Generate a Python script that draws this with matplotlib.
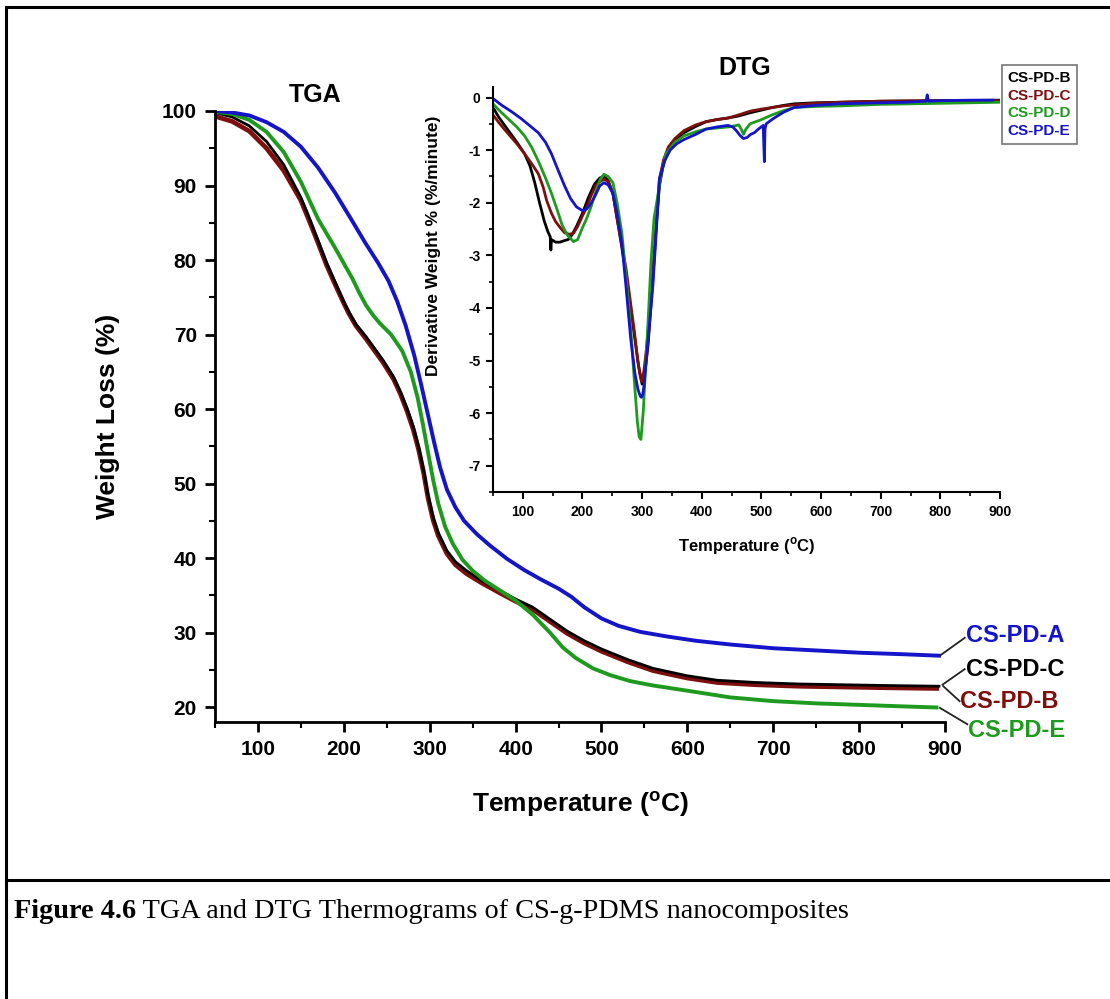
import numpy as np
import matplotlib
matplotlib.use("Agg")
import matplotlib.pyplot as plt
from matplotlib.lines import Line2D
from matplotlib.ticker import MultipleLocator

plt.rcParams["font.family"] = ["Liberation Sans", "DejaVu Sans"]
plt.rcParams["mathtext.fontset"] = "custom"
plt.rcParams["mathtext.rm"] = "Liberation Sans"
plt.rcParams["mathtext.bf"] = "Liberation Sans:bold"
plt.rcParams["axes.unicode_minus"] = False

# ---- TGA data (temperature in C, weight %) ----
tga_a_t = [50, 70, 90, 110, 130, 150, 170, 190, 210, 225, 240, 252, 262, 272, 282, 290, 298, 305, 312,
           320, 330, 340, 355, 370, 390, 410, 430, 450, 465, 480, 500, 520, 545, 575, 610, 650, 700, 750,
           800, 850, 893]
tga_a_w = [100, 99.8, 99.4, 98.5, 97.2, 95.2, 92.4, 89.0, 85.2, 82.3, 79.6, 77.2, 74.5, 71.2, 67.2, 63.3,
           59.2, 55.6, 52.2, 49.2, 46.8, 45.0, 43.2, 41.7, 39.9, 38.4, 37.1, 35.9, 34.8, 33.4, 31.9, 30.9,
           30.1, 29.5, 28.9, 28.4, 27.9, 27.6, 27.3, 27.1, 26.9]

tga_e_t = [50, 70, 90, 110, 130, 150, 170, 190, 210, 218, 226, 234, 242, 255, 268, 278, 286, 292, 298,
           304, 310, 318, 327, 338, 350, 365, 380, 400, 420, 440, 455, 470, 490, 510, 533, 560, 600, 650,
           700, 750, 800, 850, 890]
tga_e_w = [99.9, 99.6, 98.8, 97.2, 94.5, 90.5, 85.5, 81.6, 77.5, 75.6, 73.9, 72.6, 71.5, 70.0, 67.8, 65.0,
           61.5, 58.0, 54.2, 50.5, 47.3, 44.2, 41.9, 39.8, 38.3, 36.9, 35.8, 34.3, 32.4, 30.0, 28.0, 26.6,
           25.2, 24.3, 23.5, 22.9, 22.2, 21.3, 20.8, 20.5, 20.3, 20.1, 19.95]

tga_bc_t = [50, 70, 90, 110, 130, 150, 160, 170, 180, 190, 200, 206, 214, 226, 246, 258, 266, 274, 281,
            287, 293, 298, 304, 310, 320, 330, 343, 360, 382, 400, 420, 440, 460, 480, 500, 530, 560, 600,
            635, 680, 730, 780, 830, 893]
tga_c_w = [99.8, 99.2, 98.0, 95.9, 92.8, 88.4, 85.6, 82.6, 79.6, 77.0, 74.4, 73.0, 71.4, 69.7, 66.5, 64.3,
           62.3, 60.0, 57.6, 55.0, 51.8, 48.5, 45.5, 43.4, 41.0, 39.5, 38.3, 37.0, 35.6, 34.5, 33.4, 31.8,
           30.2, 28.9, 27.8, 26.4, 25.2, 24.2, 23.6, 23.3, 23.1, 23.0, 22.9, 22.8]
tga_b_w = [99.3, 98.6, 97.3, 95.0, 92.0, 88.0, 85.2, 82.3, 79.3, 76.7, 74.2, 72.8, 71.2, 69.4, 66.2, 64.0,
           62.0, 59.6, 57.2, 54.6, 51.4, 48.1, 45.1, 43.0, 40.6, 39.1, 37.9, 36.7, 35.3, 34.2, 33.1, 31.5,
           29.9, 28.6, 27.5, 26.1, 24.9, 23.9, 23.3, 23.0, 22.8, 22.7, 22.6, 22.5]

# ---- DTG data (temperature in C, %/minute) ----
dtg_b_t = [50, 60, 74, 90, 103, 112, 120, 128, 136, 142, 146, 147, 148, 155, 162, 170, 176, 182, 190,
           200, 210, 220, 229, 236, 243, 251, 258, 266, 273, 280, 288, 294, 300, 305, 310, 318, 324, 329,
           336, 344, 355, 370, 390, 407, 425, 444, 462, 481, 500, 518, 537, 555, 590, 630, 700, 800, 900]
dtg_b_d = [-0.19, -0.38, -0.6, -0.85, -1.07, -1.3, -1.62, -2.0, -2.35, -2.55, -2.65, -2.9, -2.7, -2.75,
           -2.75, -2.72, -2.7, -2.62, -2.45, -2.2, -1.9, -1.65, -1.53, -1.5, -1.58, -1.82, -2.3, -2.85,
           -3.35, -3.95, -4.6, -5.1, -5.45, -5.2, -4.7, -3.45, -2.4, -1.68, -1.25, -1.0, -0.82, -0.67,
           -0.55, -0.46, -0.42, -0.39, -0.35, -0.29, -0.24, -0.19, -0.15, -0.12, -0.1, -0.09, -0.07,
           -0.06, -0.05]

dtg_c_t = [50, 60, 74, 90, 103, 115, 126, 134, 140, 148, 155, 163, 170, 178, 185, 192, 200, 207, 215,
           222, 229, 236, 243, 251, 258, 266, 273, 280, 287, 292, 296, 299, 303, 307, 312, 318, 324, 329,
           336, 344, 355, 370, 390, 407, 425, 444, 462, 481, 500, 518, 537, 555, 590, 630, 700, 800, 900]
dtg_c_d = [-0.33, -0.48, -0.67, -0.88, -1.07, -1.26, -1.45, -1.7, -1.96, -2.2, -2.36, -2.48, -2.57, -2.6,
           -2.58, -2.45, -2.25, -2.09, -1.85, -1.68, -1.6, -1.55, -1.6, -1.82, -2.3, -2.8, -3.25, -3.85,
           -4.45, -4.94, -5.25, -5.4, -5.2, -4.8, -4.2, -3.3, -2.35, -1.55, -1.18, -0.94, -0.78, -0.63,
           -0.52, -0.46, -0.42, -0.39, -0.33, -0.26, -0.22, -0.19, -0.16, -0.14, -0.11, -0.09, -0.07,
           -0.06, -0.06]

dtg_d_t = [50, 60, 74, 90, 103, 115, 126, 137, 148, 158, 166, 175, 185, 192, 199, 207, 214, 222, 230,
           236, 243, 251, 258, 266, 273, 281, 287, 292, 295, 298, 302, 306, 310, 315, 320, 325, 332, 340,
           355, 370, 390, 407, 425, 444, 455, 462, 467, 470, 474, 481, 500, 518, 537, 555, 590, 630, 700,
           800, 900]
dtg_d_d = [-0.12, -0.24, -0.39, -0.56, -0.73, -0.95, -1.21, -1.5, -1.82, -2.15, -2.43, -2.62, -2.74, -2.7,
           -2.5, -2.3, -2.09, -1.8, -1.55, -1.46, -1.5, -1.62, -2.0, -2.57, -3.4, -4.4, -5.4, -6.16, -6.45,
           -6.5, -5.96, -5.1, -4.26, -3.1, -2.3, -1.96, -1.45, -1.07, -0.85, -0.73, -0.65, -0.6, -0.58,
           -0.56, -0.54, -0.52, -0.62, -0.7, -0.6, -0.5, -0.42, -0.33, -0.25, -0.19, -0.17, -0.16, -0.13,
           -0.11, -0.09]

dtg_e_t = [50, 65, 80, 96, 110, 126, 138, 148, 158, 170, 180, 190, 200, 207, 214, 222, 229, 236, 243,
           251, 258, 266, 273, 281, 288, 293, 297, 299, 301, 303, 307, 312, 318, 324, 329, 338, 347, 358,
           370, 390, 407, 425, 444, 452, 458, 464, 470, 476, 482, 488, 495, 503, 504, 505, 506, 508, 520,
           537, 555, 590, 629, 700, 740, 776, 778, 780, 800, 850, 888]
dtg_e_d = [-0.02, -0.15, -0.26, -0.39, -0.52, -0.67, -0.85, -1.07, -1.35, -1.68, -1.92, -2.08, -2.15,
           -2.12, -2.02, -1.85, -1.68, -1.62, -1.66, -1.82, -2.2, -2.77, -3.6, -4.6, -5.25, -5.55, -5.68,
           -5.7, -5.65, -5.49, -5.0, -4.35, -3.58, -2.5, -1.55, -1.2, -1.0, -0.88, -0.8, -0.7, -0.6, -0.56,
           -0.53, -0.56, -0.63, -0.72, -0.78, -0.76, -0.7, -0.67, -0.6, -0.53, -0.9, -1.22, -0.6, -0.5,
           -0.4, -0.28, -0.19, -0.15, -0.12, -0.1, -0.09, -0.07, 0.05, -0.07, -0.06, -0.05, -0.05]

c_blue = "#1414c8"
c_green = "#1e9a1e"
c_red = "#7d0f0f"
c_black = "#000000"

fig = plt.figure(figsize=(11.1, 9.99), dpi=100)

# ---- main TGA axes ----
ax = fig.add_axes([215 / 1110, 1 - 722 / 999, 730 / 1110, 611 / 999])
ax.plot(tga_bc_t, tga_b_w, color=c_red, lw=3.4, solid_capstyle="butt")
ax.plot(tga_bc_t, tga_c_w, color=c_black, lw=2.0)
ax.plot(tga_e_t, tga_e_w, color=c_green, lw=2.8)
ax.plot(tga_a_t, tga_a_w, color=c_blue, lw=2.8)
ax.set_xlim(50, 900)
ax.set_ylim(18, 100)
ax.spines[["top", "right"]].set_visible(False)
for s in ["left", "bottom"]:
    ax.spines[s].set_linewidth(2)
ax.xaxis.set_major_locator(MultipleLocator(100))
ax.xaxis.set_minor_locator(MultipleLocator(50))
ax.yaxis.set_major_locator(MultipleLocator(10))
ax.yaxis.set_minor_locator(MultipleLocator(5))
ax.tick_params(which="major", direction="out", length=7, width=2, labelsize=15, pad=6)
ax.tick_params(which="minor", direction="out", length=4, width=1.5)
for lab in ax.get_xticklabels() + ax.get_yticklabels():
    lab.set_fontweight("bold")
ax.set_xlabel(r"Temperature ($^\mathbf{o}$C)", fontsize=19, fontweight="bold", labelpad=22)
ax.set_ylabel("Weight Loss (%)", fontsize=19, fontweight="bold", labelpad=30)
ax.text(166, 102.2, "TGA", ha="center", va="center", fontsize=18, fontweight="bold", clip_on=False)

# labels with leader lines
labels = [
    ("CS-PD-A", c_blue, (894, 26.9), (923, 29.3), 29.6),
    ("CS-PD-C", c_black, (897, 23.0), (923, 25.1), 25.1),
    ("CS-PD-B", c_red, (898, 22.8), (917, 20.8), 20.8),
    ("CS-PD-E", c_green, (894, 19.9), (926, 17.7), 16.8),
]
for name, col, p0, p1, ty in labels:
    ax.plot([p0[0], p1[0]], [p0[1], p1[1]], color="#222222", lw=1.3, clip_on=False)
    ax.text(p1[0] + 1, ty, name, color=col, fontsize=17, fontweight="bold",
            ha="left", va="center", clip_on=False)

# ---- DTG inset ----
ins = fig.add_axes([493 / 1110, 1 - 492 / 999, 507 / 1110, 405 / 999])
ins.plot(dtg_b_t, dtg_b_d, color=c_black, lw=2.0, label="CS-PD-B")
ins.plot(dtg_c_t, dtg_c_d, color=c_red, lw=2.0, label="CS-PD-C")
ins.plot(dtg_d_t, dtg_d_d, color=c_green, lw=2.0, label="CS-PD-D")
ins.plot(dtg_e_t, dtg_e_d, color=c_blue, lw=2.0, label="CS-PD-E")
ins.set_xlim(50, 900)
ins.set_ylim(-7.5, 0.2)
ins.spines[["top", "right"]].set_visible(False)
for s in ["left", "bottom"]:
    ins.spines[s].set_linewidth(1.5)
ins.xaxis.set_major_locator(MultipleLocator(100))
ins.xaxis.set_minor_locator(MultipleLocator(50))
ins.yaxis.set_major_locator(MultipleLocator(1))
ins.yaxis.set_minor_locator(MultipleLocator(0.5))
ins.tick_params(which="major", direction="out", length=5, width=1.5, labelsize=10, pad=4)
ins.tick_params(which="minor", direction="out", length=3, width=1.2)
for lab in ins.get_xticklabels() + ins.get_yticklabels():
    lab.set_fontweight("bold")
ins.set_xlabel(r"Temperature ($^\mathbf{o}$C)", fontsize=12, fontweight="bold", labelpad=12)
ins.set_ylabel("Derivative Weight % (%/minute)", fontsize=12.5, fontweight="bold")
ins.yaxis.label.set_va("center")
ins.yaxis.set_label_coords(-0.118, 0.607)
fig.text(745 / 1110, 1 - 68 / 999, "DTG", ha="center", va="center", fontsize=18, fontweight="bold")

leg = ins.legend(loc="upper left", bbox_to_anchor=(994 / 1110, 1 - 57 / 999),
                 bbox_transform=fig.transFigure, handlelength=0, handletextpad=0,
                 fancybox=False, edgecolor="#777777", framealpha=1, borderpad=0.4,
                 labelspacing=0.25, prop={"weight": "bold", "size": 11})
leg.get_frame().set_linewidth(1.2)
for txt, col in zip(leg.get_texts(), [c_black, c_red, c_green, c_blue]):
    txt.set_color(col)
for h in leg.legend_handles:
    h.set_visible(False)

# ---- page frame and caption ----
fig.add_artist(Line2D([6 / 1110, 1], [1 - 7 / 999, 1 - 7 / 999], color="black", lw=2.2))
fig.add_artist(Line2D([6 / 1110, 6 / 1110], [0, 1 - 7 / 999], color="black", lw=2.2))
fig.add_artist(Line2D([6 / 1110, 1], [1 - 880 / 999, 1 - 880 / 999], color="black", lw=2.2))

t1 = fig.text(14 / 1110, 1 - 912 / 999, "Figure 4.6", fontsize=20.3, fontweight="bold",
              family="Liberation Serif", va="center", ha="left")
ax.annotate(" TGA and DTG Thermograms of CS-g-PDMS nanocomposites", xy=(1, 0), xycoords=t1,
            va="bottom", ha="left", fontsize=20.3, family="Liberation Serif", annotation_clip=False)

fig.savefig("out.png", dpi=100)
